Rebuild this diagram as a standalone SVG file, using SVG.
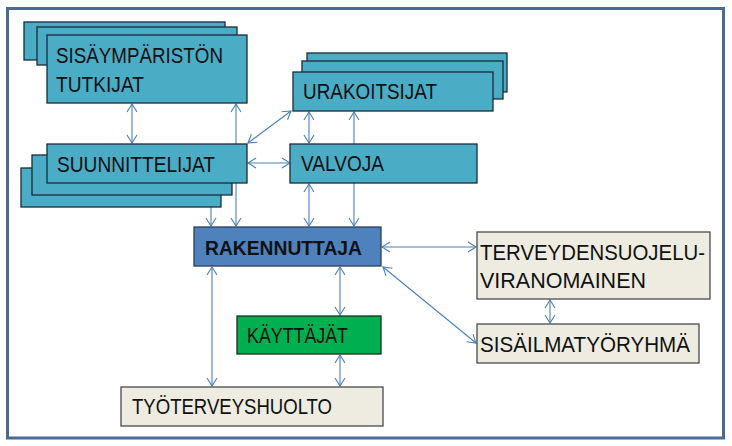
<svg xmlns="http://www.w3.org/2000/svg" width="732" height="446" viewBox="0 0 732 446">
<style>
.t{font-family:"Liberation Sans",Arial,sans-serif;font-size:22px;fill:#111}
.b{font-weight:bold;font-size:21px}
.teal{fill:#4bacc6;stroke:#1c2a36;stroke-width:1.3}
.rak{fill:#4f81bd;stroke:#2c3e5a;stroke-width:1.3}
.grn{fill:#00b050;stroke:#1d2b1d;stroke-width:1.3}
.bei{fill:#eeece1;stroke:#4a4a4a;stroke-width:1.3}
.c line{stroke:#4a7ebb;stroke-width:1.1;fill:none;marker-start:url(#a);marker-end:url(#a)}
</style>
<defs>
<marker id="a" viewBox="0 0 10 12" refX="9" refY="6" markerWidth="10" markerHeight="12" markerUnits="userSpaceOnUse" orient="auto-start-reverse">
<path d="M1,1 L9,6 L1,11" fill="none" stroke="#4a7ebb" stroke-width="1.1"/>
</marker>
</defs>
<rect x="0" y="0" width="732" height="446" fill="#fff"/>
<rect x="7.5" y="8.5" width="716" height="429.5" fill="none" stroke="#4a6a96" stroke-width="3"/>
<g class="c">
<line x1="132" y1="104" x2="132" y2="143"/>
<line x1="236" y1="104" x2="236" y2="226"/>
<line x1="211" y1="185" x2="211" y2="226"/>
<line x1="248" y1="163" x2="290" y2="163"/>
<line x1="248" y1="143" x2="291" y2="111"/>
<line x1="309" y1="112" x2="309" y2="143"/>
<line x1="354" y1="112" x2="354" y2="226"/>
<line x1="309" y1="184" x2="309" y2="226"/>
<line x1="382" y1="247" x2="476" y2="247"/>
<line x1="383" y1="267" x2="476" y2="343"/>
<line x1="550" y1="300" x2="550" y2="323"/>
<line x1="340" y1="267" x2="340" y2="315"/>
<line x1="340" y1="355" x2="340" y2="386"/>
<line x1="212" y1="267" x2="212" y2="386"/>
</g>
<g id="sisaymparisto">
<rect class="teal" x="24" y="22" width="201" height="38"/>
<rect class="teal" x="37" y="27" width="200" height="38"/>
<rect class="teal" x="47" y="35" width="200" height="68"/>
<text class="t" x="56" y="63" textLength="167" lengthAdjust="spacingAndGlyphs">SISÄYMPÄRISTÖN</text>
<text class="t" x="56" y="92" textLength="88" lengthAdjust="spacingAndGlyphs">TUTKIJAT</text>
</g>
<g id="suunnittelijat">
<rect class="teal" x="21" y="168" width="200" height="39"/>
<rect class="teal" x="32" y="155" width="200" height="40"/>
<rect class="teal" x="47" y="144" width="200" height="39"/>
<text class="t" x="57" y="172" textLength="158" lengthAdjust="spacingAndGlyphs">SUUNNITTELIJAT</text>
</g>
<g id="urakoitsijat">
<rect class="teal" x="307" y="53" width="200" height="39"/>
<rect class="teal" x="302" y="61" width="201" height="38"/>
<rect class="teal" x="293" y="72" width="200" height="39"/>
<text class="t" x="303" y="99" textLength="134" lengthAdjust="spacingAndGlyphs">URAKOITSIJAT</text>
</g>
<g id="valvoja">
<rect class="teal" x="290" y="144" width="187" height="39"/>
<text class="t" x="301" y="171" textLength="83" lengthAdjust="spacingAndGlyphs">VALVOJA</text>
</g>
<g id="rakennuttaja">
<rect class="rak" x="194" y="227" width="187" height="39"/>
<text class="t b" x="205" y="255" textLength="157" lengthAdjust="spacingAndGlyphs">RAKENNUTTAJA</text>
</g>
<g id="terveydensuojelu">
<rect class="bei" x="477" y="232" width="233" height="67"/>
<text class="t" x="480" y="260" textLength="225" lengthAdjust="spacingAndGlyphs">TERVEYDENSUOJELU-</text>
<text class="t" x="480" y="288" textLength="166" lengthAdjust="spacingAndGlyphs">VIRANOMAINEN</text>
</g>
<g id="sisailmatyoryhma">
<rect class="bei" x="477" y="324" width="222" height="39"/>
<text class="t" x="480" y="352" textLength="210" lengthAdjust="spacingAndGlyphs">SISÄILMATYÖRYHMÄ</text>
</g>
<g id="kayttajat">
<rect class="grn" x="237" y="316" width="144" height="38"/>
<text class="t" x="247" y="343" textLength="101" lengthAdjust="spacingAndGlyphs">KÄYTTÄJÄT</text>
</g>
<g id="tyoterveyshuolto">
<rect class="bei" x="121" y="387" width="262" height="39"/>
<text class="t" x="132" y="414" textLength="200" lengthAdjust="spacingAndGlyphs">TYÖTERVEYSHUOLTO</text>
</g>
</svg>
